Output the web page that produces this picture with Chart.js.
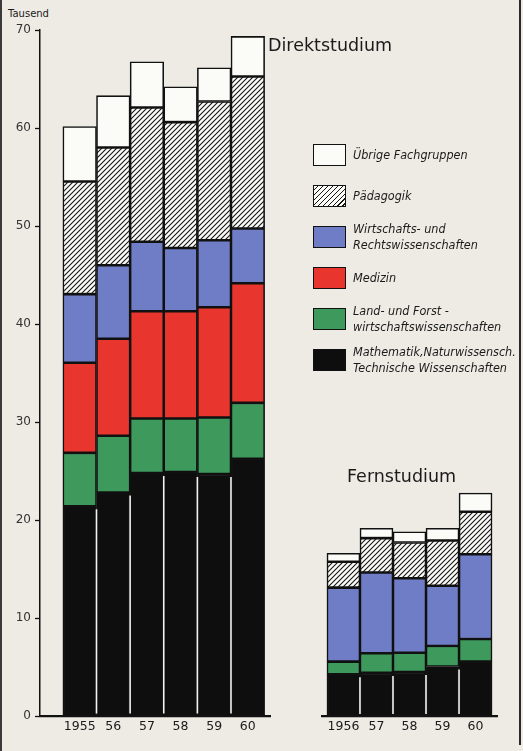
<!DOCTYPE html>
<html>
<head>
<meta charset="utf-8">
<script src="https://cdn.jsdelivr.net/npm/chart.js@4/dist/chart.umd.min.js"></script>
<style>
  html, body { margin:0; padding:0; }
  body { width:523px; height:751px; background:#edebe4; position:relative; overflow:hidden; font-family:"DejaVu Sans", sans-serif; color:#1a1a1a; }
  canvas { position:absolute; top:0; }
  #c1 { left:0; }
  #c2 { left:300px; }
  .title { position:absolute; font-size:17.5px; color:#1a1a1a; white-space:nowrap; z-index:2; }
  .unit { position:absolute; left:8px; top:8px; font-size:10px; color:#1a1a1a; }
  .leg { position:absolute; left:313px; width:205px; height:24px; display:flex; align-items:center; z-index:2; }
  .box { width:31px; height:20px; border:1.8px solid #111; flex:none; }
  .lt { margin-left:7px; font-family:"DejaVu Sans Condensed","DejaVu Sans",sans-serif; font-style:italic; font-size:12.5px; line-height:16px; color:#1a1a1a; white-space:nowrap; }
  .edgeL { position:absolute; left:0; top:0; width:2px; height:751px; background:#3a3a3a; }
  .edgeR { position:absolute; left:519px; top:0; width:2px; height:745px; background:#2a2a2a; }
</style>
</head>
<body>
<div class="edgeL"></div>
<div class="edgeR"></div>
<div class="unit">Tausend</div>
<canvas id="c1" width="300" height="751"></canvas>
<canvas id="c2" width="223" height="751"></canvas>
<div class="title" style="left:268px; top:35px;">Direktstudium</div>
<div class="title" style="left:347px; top:466px;">Fernstudium</div>
<div id="legend"></div>
<script>
// ---- data (thousands of students) ----
const yearsDirekt = ['1955', '56', '57', '58', '59', '60'];
const yearsFern   = ['1956', '57', '58', '59', '60'];

const seriesNames = [
  'Mathematik, Naturwissensch., Technische Wissenschaften',
  'Land- und Forstwirtschaftswissenschaften',
  'Medizin',
  'Wirtschafts- und Rechtswissenschaften',
  'Pädagogik',
  'Übrige Fachgruppen'
];
const legendLines = [
  ['Mathematik,Naturwissensch.', 'Technische Wissenschaften'],
  ['Land- und Forst -', 'wirtschaftswissenschaften'],
  ['Medizin'],
  ['Wirtschafts- und', 'Rechtswissenschaften'],
  ['Pädagogik'],
  ['Übrige Fachgruppen']
];

// Direktstudium
const matheDirekt = [21.4, 22.8, 24.8, 24.9, 24.7, 26.25];
const landDirekt  = [5.45, 5.8, 5.55, 5.45, 5.75, 5.7];
const medDirekt   = [9.2, 9.9, 10.95, 10.95, 11.25, 12.2];
const wirtDirekt  = [7.0, 7.5, 7.1, 6.45, 6.85, 5.6];
const paedDirekt  = [11.5, 12.0, 13.7, 12.85, 14.15, 15.5];
const uebDirekt   = [5.6, 5.3, 4.65, 3.6, 3.45, 4.1];

// Fernstudium (no Medizin)
const matheFern = [4.25, 4.4, 4.5, 5.05, 5.55];
const landFern  = [1.3, 2.0, 1.95, 2.1, 2.3];
const medFern   = [null, null, null, null, null];
const wirtFern  = [7.55, 8.25, 7.6, 6.15, 8.65];
const paedFern  = [2.65, 3.5, 3.65, 4.6, 4.35];
const uebFern   = [0.85, 1.0, 1.1, 1.25, 1.9];

const yTicks = [0, 10, 20, 30, 40, 50, 60, 70];

// ---- styles ----
function hatch() {
  const c = document.createElement('canvas');
  c.width = 5; c.height = 5;
  const g = c.getContext('2d');
  g.fillStyle = '#fbfbf8'; g.fillRect(0, 0, 5, 5);
  g.strokeStyle = '#151515'; g.lineWidth = 1.1;
  g.beginPath();
  g.moveTo(0, 5); g.lineTo(5, 0);
  g.moveTo(-1, 1); g.lineTo(1, -1);
  g.moveTo(4, 6); g.lineTo(6, 4);
  g.stroke();
  return g.createPattern(c, 'repeat');
}
const fills = ['#0e0e0e', '#3d9a5c', '#e8352e', '#6f7cc6', hatch(), '#fbfbf8'];

// legend (HTML)
const legTops = [143, 184, 225, 266, 307, 348];
const legOrder = [5, 4, 3, 2, 1, 0];
const legEl = document.getElementById('legend');
legOrder.forEach((si, k) => {
  const row = document.createElement('div');
  row.className = 'leg';
  row.style.top = legTops[k] + 'px';
  const b = document.createElement('div');
  b.className = 'box';
  if (si === 4) {
    b.style.background = 'repeating-linear-gradient(135deg, #fbfbf8 0px, #fbfbf8 2.4px, #151515 2.4px, #151515 3.5px)';
  } else {
    b.style.background = fills[si];
  }
  const t = document.createElement('div');
  t.className = 'lt';
  t.innerHTML = legendLines[si].join('<br>');
  row.appendChild(b); row.appendChild(t);
  legEl.appendChild(row);
});

const separators = {
  id: 'separators',
  afterDatasetsDraw(chart) {
    const meta = chart.getDatasetMeta(0);
    const ctx = chart.ctx;
    ctx.save();
    ctx.strokeStyle = '#f2f2ee';
    ctx.lineWidth = 1.6;
    for (let i = 0; i < meta.data.length - 1; i++) {
      const a = meta.data[i], b = meta.data[i + 1];
      const x = (a.x + a.width / 2 + b.x - b.width / 2) / 2;
      const top = Math.max(a.y, b.y) + 3;
      ctx.beginPath();
      ctx.moveTo(x, top);
      ctx.lineTo(x, a.base - 2);
      ctx.stroke();
    }
    ctx.restore();
  }
};

function makeDatasets(arrs) {
  return arrs.map((arr, si) => ({
    label: seriesNames[si],
    data: arr.map((v, i) => ({ x: i, y: v })),
    backgroundColor: fills[si],
    borderColor: '#111111',
    borderWidth: 1.6,
    borderSkipped: false,
    barPercentage: 1,
    categoryPercentage: 1
  }));
}

const tickFont = { family: 'DejaVu Sans', size: 12.5 };

function makeChart(id, labels, arrs, xmin, xmax, pad, showY) {
  return new Chart(document.getElementById(id), {
    type: 'bar',
    data: { datasets: makeDatasets(arrs) },
    plugins: [separators],
    options: {
      responsive: false,
      animation: false,
      layout: { padding: pad },
      plugins: { legend: { display: false }, tooltip: { enabled: false } },
      scales: {
        x: {
          type: 'linear',
          stacked: true,
          offset: false,
          min: xmin, max: xmax,
          afterBuildTicks: s => { s.ticks = labels.map((_, i) => ({ value: i })); },
          afterFit: s => { s.height = 35; },
          ticks: { callback: v => labels[v], color: '#1a1a1a', font: tickFont, padding: 3, maxRotation: 0, autoSkip: false },
          grid: { display: false, drawTicks: false },
          border: { display: true, color: '#111', width: 2.2 }
        },
        y: {
          display: showY,
          stacked: true,
          min: 0, max: 70,
          afterBuildTicks: s => { s.ticks = yTicks.map(v => ({ value: v })); },
          afterFit: s => { s.width = showY ? 40 : 0; },
          ticks: { color: '#333', font: { family: 'DejaVu Sans', size: 12 }, padding: 4 },
          grid: { drawOnChartArea: false, color: '#111', tickLength: 5, tickWidth: 1.3 },
          border: { display: true, color: '#111', width: 1.5 }
        }
      }
    }
  });
}

makeChart('c1', yearsDirekt,
  [matheDirekt, landDirekt, medDirekt, wirtDirekt, paedDirekt, uebDirekt],
  -1.18, 5.66, { top: 30, left: 0, right: 30, bottom: 0 }, true);

makeChart('c2', yearsFern,
  [matheFern, landFern, medFern, wirtFern, paedFern, uebFern],
  -0.65, 4.65, { top: 30, left: 22, right: 26, bottom: 0 }, false);
</script>
</body>
</html>
